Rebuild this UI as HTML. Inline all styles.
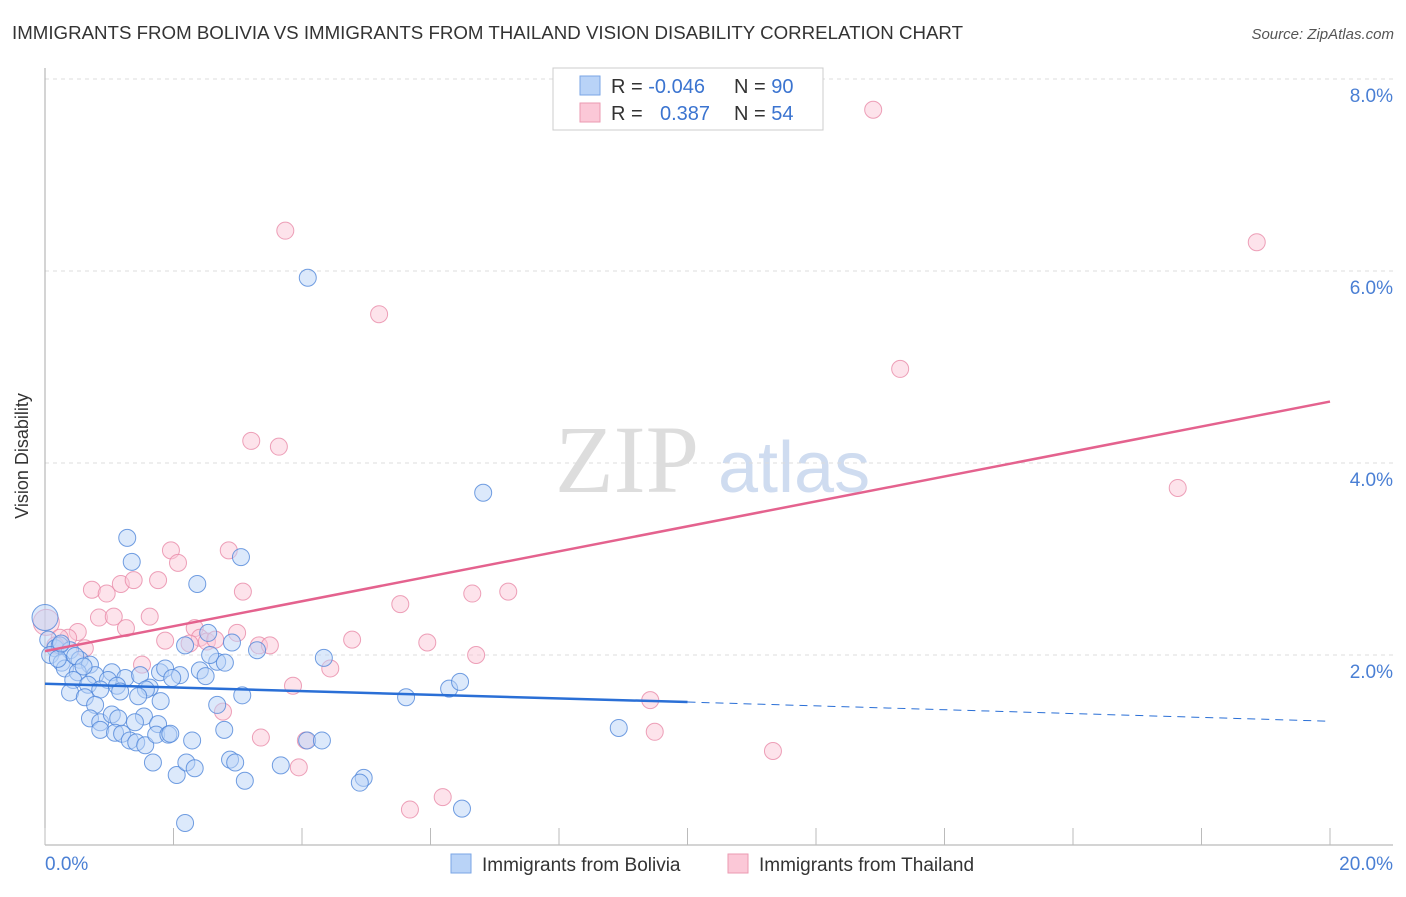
<!DOCTYPE html>
<html><head><meta charset="utf-8"><style>
body{margin:0;background:#fff;font-family:"Liberation Sans",sans-serif;}
</style></head><body>
<svg width="1406" height="892" xmlns="http://www.w3.org/2000/svg" font-family="Liberation Sans, sans-serif">
<text x="12" y="39" font-size="18" fill="#333" textLength="951" lengthAdjust="spacingAndGlyphs">IMMIGRANTS FROM BOLIVIA VS IMMIGRANTS FROM THAILAND VISION DISABILITY CORRELATION CHART</text>
<text x="1394" y="39" font-size="15" fill="#555" text-anchor="end" font-style="italic">Source: ZipAtlas.com</text>
<text x="28" y="456" font-size="18" fill="#333" text-anchor="middle" transform="rotate(-90 28 456)">Vision Disability</text>
<text x="555" y="492" font-size="96" fill="#ddd" font-family="Liberation Serif, serif">ZIP</text>
<text x="718" y="492" font-size="72" fill="#cfdcf0">atlas</text>
<g id="grid"></g>
<g id="axes"></g>
<g id="pts"></g>
<g id="trend"></g>
<g>
<rect x="553" y="68" width="270" height="62" fill="#fff" stroke="#ccc"/>
<rect x="580" y="76" width="20" height="19" fill="#b9d3f7" stroke="#7aa6e6"/>
<rect x="580" y="103" width="20" height="19" fill="#fbc8d7" stroke="#eb9ab2"/>
<text x="611" y="93" font-size="20" fill="#333">R = <tspan fill="#3b74d0">-0.046</tspan></text>
<text x="734" y="93" font-size="20" fill="#333">N = <tspan fill="#3b74d0">90</tspan></text>
<text x="611" y="120" font-size="20" fill="#333">R = <tspan fill="#3b74d0" x="660">0.387</tspan></text>
<text x="734" y="120" font-size="20" fill="#333">N = <tspan fill="#3b74d0">54</tspan></text>
</g>
<g>
<rect x="451" y="854" width="20" height="19" fill="#b9d3f7" stroke="#7aa6e6"/>
<text x="482" y="871" font-size="19" fill="#333">Immigrants from Bolivia</text>
<rect x="728" y="854" width="20" height="19" fill="#fbc8d7" stroke="#eb9ab2"/>
<text x="759" y="871" font-size="19" fill="#333">Immigrants from Thailand</text>
</g>
</svg>
<script>
const yTicks=[2,4,6,8];
const yTickLabels=["2.0%","4.0%","6.0%","8.0%"];
const xTicks=[0,2,4,6,8,10,12,14,16,18,20];
const blueX=[4.09,6.82,1.28,1.35,3.05,2.37,0,2.91,3.30,2.54,2.18,4.34,0.05,0.16,0.23,0.39,0.08,0.26,0.54,0.31,0.70,0.51,0.78,0.44,0.67,1.04,0.98,1.25,1.48,1.79,1.87,2.10,2.41,2.68,2.57,0.86,0.39,0.62,0.78,1.63,1.57,1.45,1.98,3.07,2.68,0.70,0.86,1.04,1.14,1.54,1.76,0.86,1.09,1.20,1.32,1.42,1.56,1.73,1.92,2.79,2.29,1.68,2.05,2.20,2.33,2.88,2.96,3.11,3.67,2.18,4.08,4.31,4.96,4.90,5.62,6.29,6.46,6.49,8.93,0.20,0.47,1.12,1.17,1.80,1.40,1.95,2.50,2.80,0.25,0.60];
const blueY=[5.93,3.69,3.22,2.97,3.02,2.74,2.39,2.13,2.05,2.23,2.10,1.97,2.16,2.07,2.10,2.05,2.0,1.92,1.95,1.86,1.90,1.82,1.79,1.74,1.69,1.82,1.74,1.76,1.79,1.82,1.86,1.79,1.84,1.93,2.0,1.64,1.61,1.56,1.48,1.66,1.64,1.57,1.76,1.58,1.48,1.34,1.30,1.38,1.34,1.36,1.28,1.22,1.19,1.18,1.11,1.09,1.06,1.17,1.17,1.22,1.11,0.88,0.75,0.88,0.82,0.91,0.88,0.69,0.85,0.25,1.11,1.11,0.72,0.67,1.56,1.65,1.72,0.40,1.24,1.96,1.99,1.68,1.62,1.52,1.30,1.18,1.78,1.92,2.12,1.88];
const pinkX=[12.89,3.74,18.86,5.20,13.31,3.21,3.64,17.63,1.96,2.86,2.07,0.73,0.96,1.18,1.38,1.76,3.08,5.53,6.65,7.21,0.84,1.07,1.63,1.26,2.33,2.99,0.02,0.51,0.36,1.87,2.41,2.52,3.33,3.50,4.78,5.95,0.62,6.71,4.44,1.51,3.86,2.77,9.42,3.36,4.06,9.49,11.33,3.95,5.68,6.19,0.23,0.16,2.65,2.25];
const pinkY=[7.68,6.42,6.30,5.55,4.98,4.23,4.17,3.74,3.09,3.09,2.96,2.68,2.64,2.74,2.78,2.78,2.66,2.53,2.64,2.66,2.39,2.40,2.40,2.28,2.28,2.23,2.34,2.24,2.18,2.15,2.18,2.14,2.10,2.10,2.16,2.13,2.07,2.0,1.86,1.90,1.68,1.41,1.53,1.14,1.11,1.20,1.0,0.83,0.39,0.52,2.18,2.10,2.16,2.12];
const blueTrend=[1.70,1.51,1.31];
const pinkTrend=[2.04,4.64];
const NS="http://www.w3.org/2000/svg";
const X0=45,X1=1330,Y0=847,YPX=96;
const sx=v=>X0+(v/20)*(X1-X0);
const sy=v=>Y0-v*YPX;
function mk(tag,attrs,parent){const e=document.createElementNS(NS,tag);for(const k in attrs)e.setAttribute(k,attrs[k]);parent.appendChild(e);return e;}
const grid=document.getElementById('grid'),axes=document.getElementById('axes'),pts=document.getElementById('pts'),trend=document.getElementById('trend');
yTicks.forEach((t,i)=>{
 const l=mk('line',{x1:X0,x2:1393,y1:sy(t),y2:sy(t),stroke:'#ddd','stroke-dasharray':'4,4'},grid);
 
 
 const tx=mk('text',{x:1393,y:sy(t)+23,'font-size':19,fill:'#4a7fd4','text-anchor':'end'},axes);
 tx.textContent=yTickLabels[i];
 
 
});
const ax=mk('line',{x1:X0,x2:X0,y1:68,y2:845,stroke:'#aaa'},axes);


const bx=mk('line',{x1:X0,x2:1393,y1:845,y2:845,stroke:'#aaa'},axes);


xTicks.forEach(t=>{
 const l=mk('line',{x1:sx(t),x2:sx(t),y1:828,y2:845,stroke:'#bbb'},axes);
 
 
});
const xl0=mk('text',{x:45,y:870,'font-size':19,fill:'#4a7fd4'},axes);xl0.textContent='0.0%';


const xl1=mk('text',{x:1393,y:870,'font-size':19,fill:'#4a7fd4','text-anchor':'end'},axes);xl1.textContent='20.0%';


function dots(xs,ys,fill,stroke,name){xs.forEach((x,i)=>{
 const big=(x<0.05&&ys[i]>2.3);
 const c=mk('circle',{cx:sx(x),cy:sy(ys[i]),r:big?13:8.5,fill:fill,'fill-opacity':0.5,stroke:stroke,'stroke-opacity':0.8,'stroke-width':1},pts);
 
 
});}
dots(pinkX,pinkY,'#fbc8d7','#e98aa8','point-thailand');
dots(blueX,blueY,'#b9d3f7','#4f86d9','point-bolivia');
const b1=mk('line',{x1:sx(0),y1:sy(blueTrend[0]),x2:sx(10),y2:sy(blueTrend[1]),stroke:'#2a6fd6','stroke-width':2.5},trend);


const b2=mk('line',{x1:sx(10),y1:sy(blueTrend[1]),x2:sx(20),y2:sy(blueTrend[2]),stroke:'#2a6fd6','stroke-width':1,'stroke-dasharray':'8,6'},trend);


const p1=mk('line',{x1:sx(0),y1:sy(pinkTrend[0]),x2:sx(20),y2:sy(pinkTrend[1]),stroke:'#e4628e','stroke-width':2.5},trend);


</script>
</body></html>
